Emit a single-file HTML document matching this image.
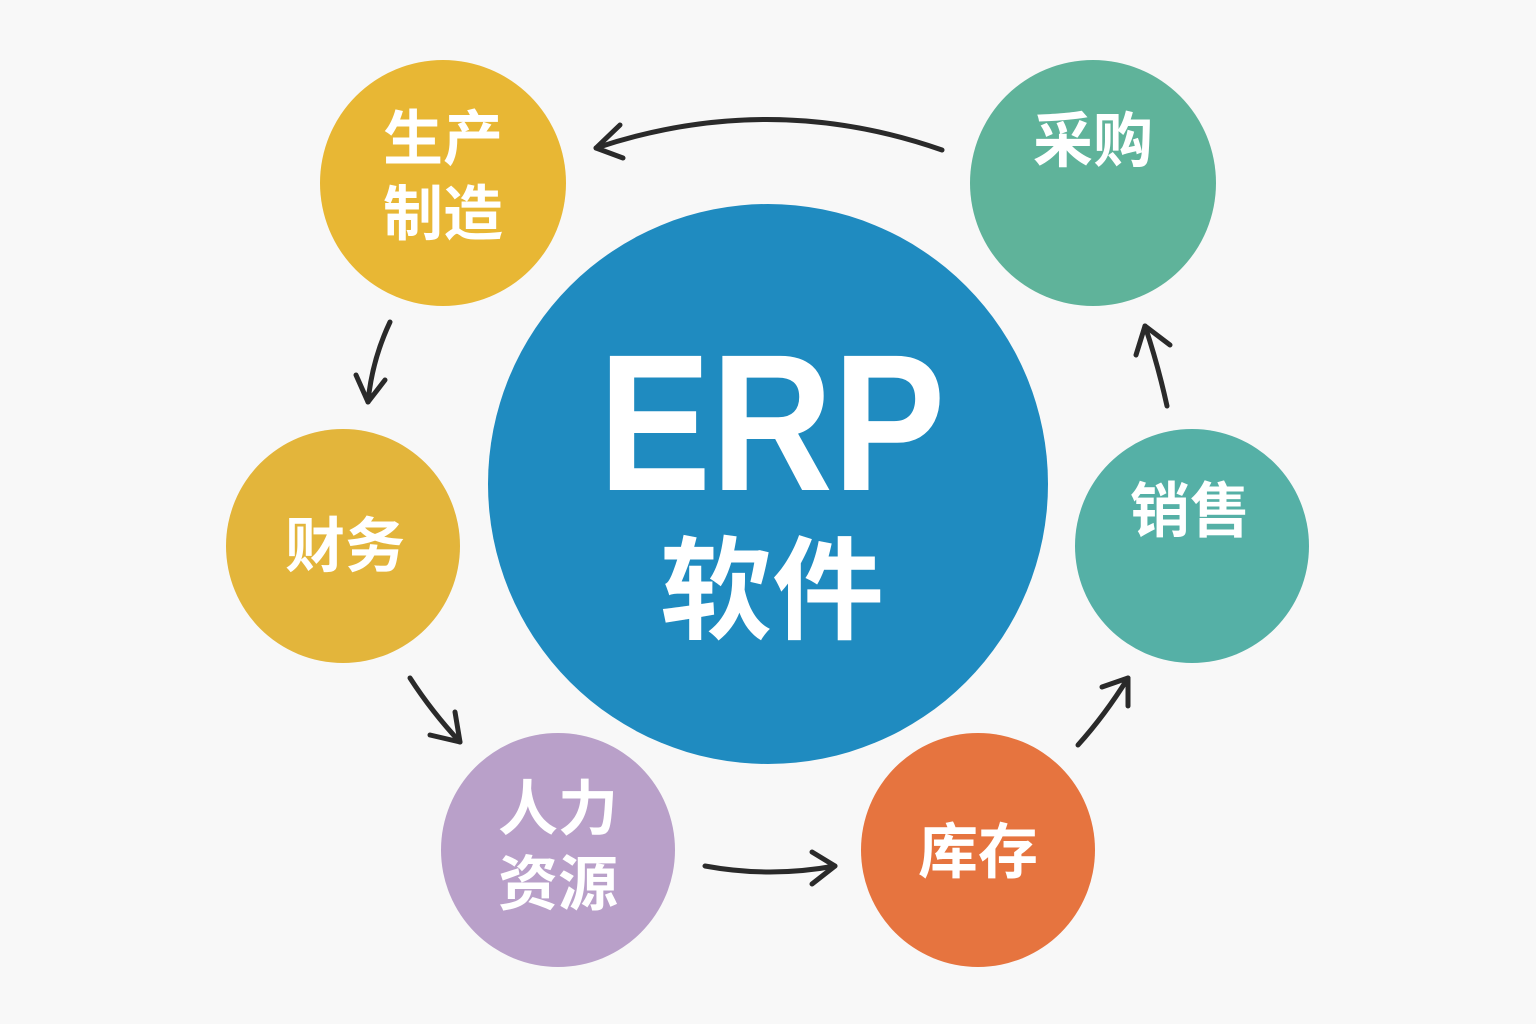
<!DOCTYPE html>
<html><head><meta charset="utf-8"><style>
html,body{margin:0;padding:0;background:#f8f8f8;}
svg{display:block}
text{font-family:"Liberation Sans","Noto Sans CJK SC",sans-serif;font-weight:bold;fill:#fff;text-anchor:middle}
</style></head><body>
<svg width="1536" height="1024" viewBox="0 0 1536 1024" xmlns="http://www.w3.org/2000/svg">
<rect width="1536" height="1024" fill="#f8f8f8"/>
<circle cx="768" cy="484" r="280" fill="#1f8bc0"/>
<circle cx="443" cy="183" r="123" fill="#e8b734"/>
<circle cx="1093" cy="183" r="123" fill="#5fb39a"/>
<circle cx="343" cy="546" r="117" fill="#e3b53b"/>
<circle cx="1192" cy="546" r="117" fill="#55b0a6"/>
<circle cx="558" cy="850" r="117" fill="#b9a0c9"/>
<circle cx="978" cy="850" r="117" fill="#e6743f"/>

<text x="0" y="490" font-size="195" transform="translate(772 0) scale(0.865 1)">ERP</text>
<text x="772" y="630" font-size="112">软件</text>
<text x="443" y="160" font-size="60">生产</text>
<text x="443" y="235" font-size="60">制造</text>
<text x="1093" y="162" font-size="60">采购</text>
<text x="345" y="567" font-size="60">财务</text>
<text x="1190" y="532" font-size="60">销售</text>
<text x="558" y="830" font-size="60">人力</text>
<text x="558" y="905" font-size="60">资源</text>
<text x="978" y="873" font-size="60">库存</text>

<g fill="none" stroke="#2a2a2a" stroke-width="5" stroke-linecap="round" stroke-linejoin="round">
<path d="M942 150 Q770 90 596 148"/>
<path d="M620 125 L596 148 L623 158"/>
<path d="M390 322 Q372 360 368 402"/>
<path d="M356 375 L368 402 L385 380"/>
<path d="M410 678 Q432 712 460 742"/>
<path d="M430 735 L460 742 L455 712"/>
<path d="M705 866 Q770 878 835 866"/>
<path d="M812 852 L835 866 L812 884"/>
<path d="M1078 745 Q1105 715 1128 678"/>
<path d="M1102 687 L1128 678 L1128 706"/>
<path d="M1167 406 Q1158 365 1145 326"/>
<path d="M1136 355 L1145 326 L1170 345"/>
</g>
</svg>
</body></html>
